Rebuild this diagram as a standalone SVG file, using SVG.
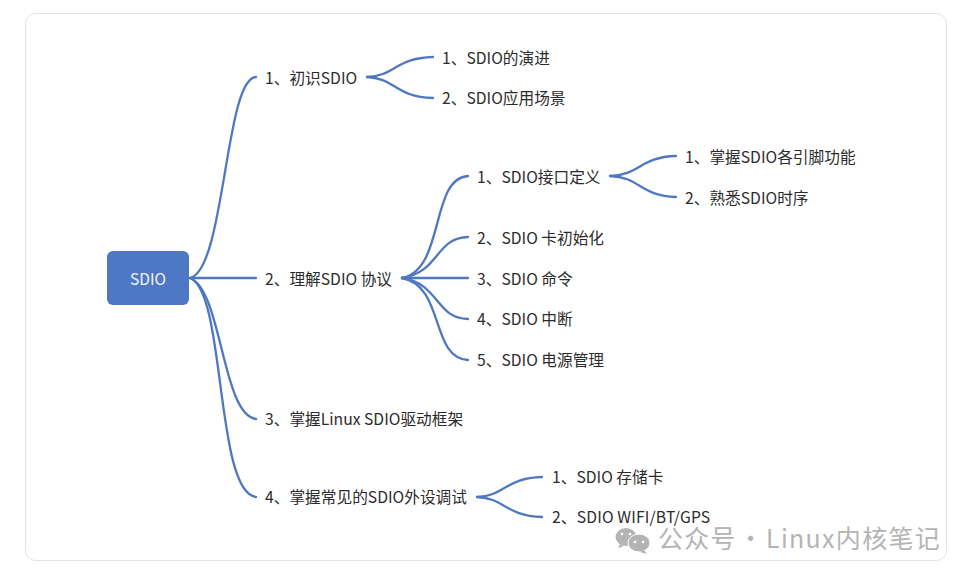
<svg xmlns="http://www.w3.org/2000/svg" width="972" height="577" viewBox="0 0 972 577">
<style>
text{font-family:"Noto Sans CJK SC","Noto Sans",sans-serif;font-size:15.7px;fill:#2b2b2b}
.c path{fill:none;stroke:#4f78c0;stroke-width:2.300;stroke-linecap:round}
</style>
<rect width="972" height="577" fill="#fff"/>
<rect x="25.500" y="13.500" width="921" height="547" rx="10" fill="#fff" stroke="#e2e2e2"/>
<g class="c" id="connectors">
<path d="M190 278C225 270 225 78 256 77"/>
<path d="M190 278H256"/>
<path d="M190 278C222 290 222 415 256 419"/>
<path d="M190 278C226 292 215 492 256 497"/>
<path d="M367 77C395 76 395 58 433 57"/>
<path d="M367 77C395 78 395 97 433 98"/>
<path d="M402 278C445 270 430 178 468 176"/>
<path d="M402 278C440 272 435 238 468 237"/>
<path d="M402 278H468"/>
<path d="M402 278C440 284 435 318 468 319"/>
<path d="M402 278C445 286 430 358 468 360"/>
<path d="M610 176C640 175 640 157 676 156"/>
<path d="M610 176C640 177 640 196 676 197"/>
<path d="M477 497C505 496 505 478 542 477"/>
<path d="M477 497C505 498 505 516 542 517"/>
</g>
<g id="n0"><rect x="107" y="251" width="82" height="54" rx="6" fill="#4f78c4"/><text x="148" y="284.500" text-anchor="middle" style="fill:#f2f5fb;font-size:15.500px">SDIO</text></g>
<g id="n1"><text x="265" y="83.500">1、初识SDIO</text></g>
<g id="n2"><text x="442" y="63.500">1、SDIO的演进</text></g>
<g id="n3"><text x="442" y="104">2、SDIO应用场景</text></g>
<g id="n4"><text x="265" y="284.500">2、理解SDIO 协议</text></g>
<g id="n5"><text x="477" y="182.500">1、SDIO接口定义</text></g>
<g id="n6"><text x="685" y="162.500">1、掌握SDIO各引脚功能</text></g>
<g id="n7"><text x="685" y="203.500">2、熟悉SDIO时序</text></g>
<g id="n8"><text x="477" y="243.500">2、SDIO 卡初始化</text></g>
<g id="n9"><text x="477" y="284.500">3、SDIO 命令</text></g>
<g id="n10"><text x="477" y="325">4、SDIO 中断</text></g>
<g id="n11"><text x="477" y="366">5、SDIO 电源管理</text></g>
<g id="n12"><text x="265" y="424.500">3、掌握Linux SDIO驱动框架</text></g>
<g id="n13"><text x="265" y="503">4、掌握常见的SDIO外设调试</text></g>
<g id="n14"><text x="552" y="483">1、SDIO 存储卡</text></g>
<g id="n15"><text x="552" y="523" style="letter-spacing:.15px">2、SDIO WIFI/BT/GPS</text></g>
<g id="watermark">
<ellipse cx="626" cy="537" rx="10.500" ry="9" fill="#b4b4b4"/>
<path d="M620 544l-2 4 6-2z" fill="#b4b4b4"/>
<ellipse cx="639" cy="543" rx="11" ry="9" fill="#b4b4b4" stroke="#fff"/>
<path d="M644 550l3 4-7-2z" fill="#b4b4b4"/>
<circle cx="622" cy="534" r="1.300" fill="#fff"/><circle cx="630" cy="534" r="1.300" fill="#fff"/>
<circle cx="635" cy="542" r="1.300" fill="#fff"/><circle cx="643" cy="542" r="1.300" fill="#fff"/>
<text y="548" style="font-size:25px;fill:#b4b4b4;letter-spacing:1.300px"><tspan x="658">公众号</tspan> <tspan x="738">·</tspan> <tspan x="766">Linux内核笔记</tspan></text>
</g>
</svg>
